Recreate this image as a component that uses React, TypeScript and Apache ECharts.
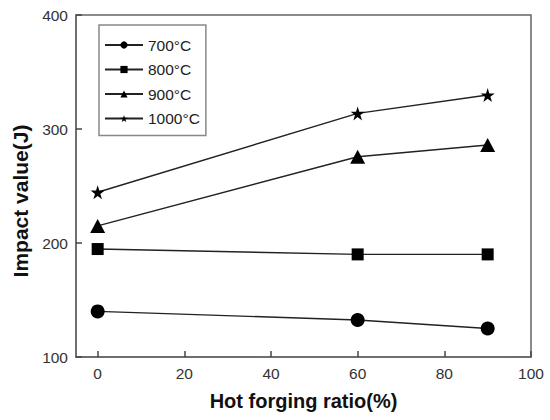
import React, { useEffect, useRef } from "react";
import * as echarts from "echarts";

const forgingRatio = [0, 60, 90];
const seriesNames = ["700°C", "800°C", "900°C", "1000°C"];
const impact700 = [140, 132.5, 125];
const impact800 = [194.7, 190, 190];
const impact900 = [215, 275.7, 286];
const impact1000 = [244.5, 313.7, 329.8];
const xTickValues = [0, 20, 40, 60, 80, 100];
const yTickValues = [100, 200, 300, 400];

const STAR =
  "path://M0,-10L2.245,-3.09L9.51,-3.09L3.633,1.18L5.878,8.09L0,3.82L-5.878,8.09L-3.633,1.18L-9.51,-3.09L-2.245,-3.09Z";

const FONT = "'Liberation Sans', Arial, Helvetica, sans-serif";

export default function App() {
  const ref = useRef<HTMLDivElement>(null);
  useEffect(() => {
    if (!ref.current) return;
    const chart = echarts.init(ref.current, null, { renderer: "svg" });
    const allValues = [impact700, impact800, impact900, impact1000];
    const symbols = ["circle", "rect", "triangle", STAR];
    const sizes = [14, 12, [15, 14], 14];
    const series = allValues.map((vals, i) => ({
      name: seriesNames[i],
      type: "line",
      data: forgingRatio.map((x, j) => [x, vals[j]]),
      symbol: symbols[i],
      symbolSize: sizes[i],
      showAllSymbol: true,
      lineStyle: { color: "#222", width: 1.4 },
      itemStyle: { color: "#000" },
      emphasis: { disabled: true },
    }));
    chart.setOption({
      animation: false,
      textStyle: { fontFamily: FONT },
      grid: {
        left: 76,
        right: 19,
        top: 15,
        bottom: 63,
        show: true,
        borderColor: "#666",
        borderWidth: 1.5,
        containLabel: false,
      },
      legend: {
        orient: "vertical",
        left: 99,
        top: 25,
        padding: [12, 6, 9, 5],
        itemGap: 8.5,
        itemWidth: 38,
        itemHeight: 9,
        borderColor: "#888",
        borderWidth: 1.5,
        backgroundColor: "#fff",
        textStyle: { fontSize: 15.5, color: "#222", fontFamily: FONT },
        data: seriesNames,
      },
      xAxis: {
        type: "value",
        min: -5,
        max: 100,
        name: "Hot forging ratio(%)",
        nameLocation: "middle",
        nameGap: 34,
        nameTextStyle: { fontSize: 20, fontWeight: "bold", color: "#111", fontFamily: FONT },
        axisLine: { show: true, onZero: false, lineStyle: { color: "#666", width: 1.5 } },
        axisTick: {
          show: true,
          inside: true,
          length: 6,
          customValues: xTickValues,
          lineStyle: { color: "#444", width: 1.5 },
        },
        axisLabel: {
          customValues: xTickValues,
          fontSize: 15.5,
          color: "#333",
          margin: 8,
          fontFamily: FONT,
        },
        splitLine: { show: false },
      },
      yAxis: {
        type: "value",
        min: 100,
        max: 400,
        interval: 100,
        name: "Impact value(J)",
        nameLocation: "middle",
        nameGap: 42,
        nameTextStyle: {
          fontSize: 21,
          fontWeight: "bold",
          color: "#111",
          fontFamily: FONT,
          padding: [0, 30, 0, 0],
        },
        axisLine: { show: true, onZero: false, lineStyle: { color: "#666", width: 1.5 } },
        axisTick: {
          show: true,
          inside: true,
          length: 6,
          customValues: yTickValues,
          lineStyle: { color: "#444", width: 1.5 },
        },
        axisLabel: {
          customValues: yTickValues,
          fontSize: 15.5,
          color: "#333",
          margin: 8,
          fontFamily: FONT,
        },
        splitLine: { show: false },
      },
      series,
    });
    return () => chart.dispose();
  }, []);
  return (
    <div
      ref={ref}
      style={{ position: "fixed", left: 0, top: 0, width: 550, height: 420, background: "#fff" }}
    />
  );
}
